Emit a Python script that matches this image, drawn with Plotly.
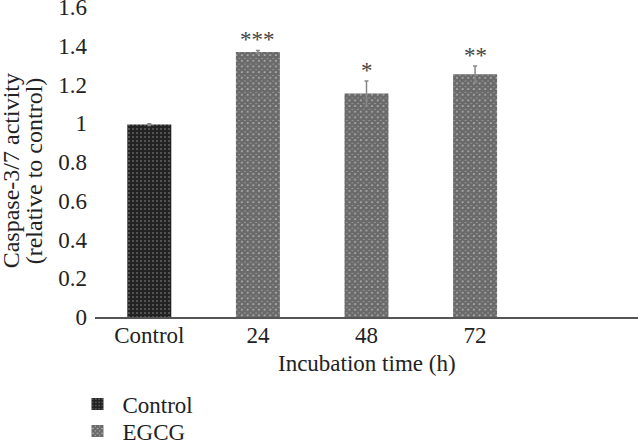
import plotly.graph_objects as go

categories = ["Control", "24", "48", "72", " "]
control_values = [0.993]
control_errors = [0.004]
egcg_cats = ["24", "48", "72"]
egcg_values = [1.368, 1.153, 1.253]
egcg_errors = [0.008, 0.065, 0.043]
stars = ["***", "*", "**"]
y_ticks = [0, 0.2, 0.4, 0.6, 0.8, 1.0, 1.2, 1.4, 1.6]
y_tick_labels = ["0", "0.2", "0.4", "0.6", "0.8", "1", "1.2", "1.4", "1.6"]

FONT = "Liberation Serif"
FS = 23
TXT = "#222222"

fig = go.Figure()
fig.add_trace(go.Bar(
    x=["Control"], y=control_values, name="Control", legend="legend",
    width=0.405,
    marker=dict(color="#222222", line=dict(width=0),
                pattern=dict(shape=".", fgcolor="#b0b0b0", bgcolor="#222222",
                             size=4, solidity=0.16)),
    error_y=dict(type="data", array=control_errors, color="#888888", thickness=1.5, width=2),
))
fig.add_trace(go.Bar(
    x=egcg_cats, y=egcg_values, name="EGCG", legend="legend2",
    width=0.405,
    marker=dict(color="#d0d0d0", line=dict(width=0),
                pattern=dict(shape="x", fgcolor="#000000", bgcolor="#d4d4d4",
                             size=4, solidity=0.9)),
    error_y=dict(type="data", array=egcg_errors, color="#888888", thickness=1.5, width=2),
))

for c, v, e, s in zip(egcg_cats, egcg_values, egcg_errors, stars):
    fig.add_annotation(x=categories.index(c), y=v + e, xref="x", yref="y",
                       text=s, showarrow=False, yanchor="bottom",
                       yshift=-4, font=dict(family=FONT, size=FS, color="#444444"))

# axis titles
fig.add_annotation(x=0.5, y=-0.150, xref="paper", yref="paper", text="Incubation time (h)",
                   showarrow=False, xanchor="center", yanchor="middle",
                   font=dict(family=FONT, size=FS, color=TXT))
fig.add_annotation(x=-0.1548, y=0.473, xref="paper", yref="paper", text="Caspase-3/7 activity",
                   showarrow=False, xanchor="center", yanchor="middle", textangle=-90,
                   font=dict(family=FONT, size=24, color=TXT))
fig.add_annotation(x=-0.1125, y=0.473, xref="paper", yref="paper", text="(relative to control)",
                   showarrow=False, xanchor="center", yanchor="middle", textangle=-90,
                   font=dict(family=FONT, size=24, color=TXT))

leg = dict(xref="container", yref="container", xanchor="left", yanchor="middle",
           orientation="v", font=dict(family=FONT, size=FS, color=TXT),
           itemwidth=40, bgcolor="rgba(0,0,0,0)", borderwidth=0)

fig.update_layout(
    width=638, height=441,
    margin=dict(l=95, r=0, t=7, b=124, autoexpand=False),
    plot_bgcolor="white", paper_bgcolor="white",
    font=dict(family=FONT, size=FS, color=TXT),
    showlegend=True,
    legend=dict(leg, x=0.1136, y=1 - 404 / 441),
    legend2=dict(leg, x=0.1136, y=1 - 431 / 441),
    xaxis=dict(type="category", categoryorder="array", categoryarray=categories,
               range=[-0.5, 4.5], showline=True, linecolor="#555555", linewidth=1.5,
               ticks="", showgrid=False, zeroline=False, automargin=False,
               ticklabelstandoff=-3,
               tickfont=dict(family=FONT, size=FS, color=TXT)),
    yaxis=dict(range=[0, 1.6], tickvals=y_ticks, ticktext=y_tick_labels,
               showline=False, showgrid=False, automargin=False,
               zeroline=False, ticks="", ticklabelstandoff=7, ticklabeloverflow="allow",
               tickfont=dict(family=FONT, size=FS, color=TXT)),
)

fig.write_html("out.html", config={"displayModeBar": False},
               post_script="document.body.style.margin='0px';")
